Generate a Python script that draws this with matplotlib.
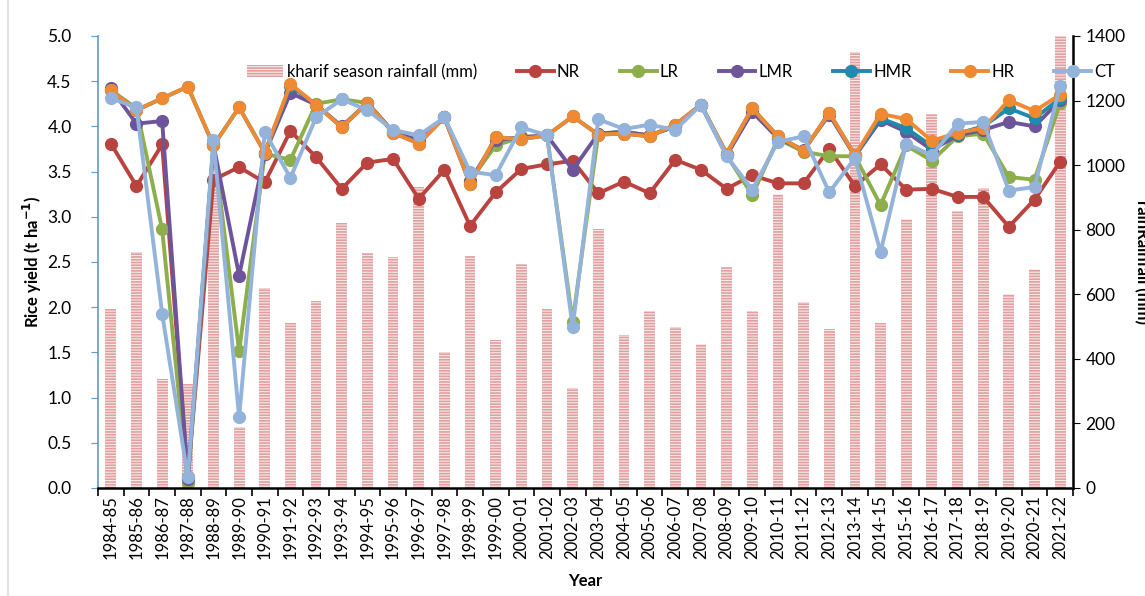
import matplotlib.pyplot as plt
import numpy as np

plt.rcParams['font.family'] = ['Lato', 'DejaVu Sans']

# ---- data ----
years = ['1984-85', '1985-86', '1986-87', '1987-88', '1988-89', '1989-90', '1990-91',
         '1991-92', '1992-93', '1993-94', '1994-95', '1995-96', '1996-97', '1997-98',
         '1998-99', '1999-00', '2000-01', '2001-02', '2002-03', '2003-04', '2004-05',
         '2005-06', '2006-07', '2007-08', '2008-09', '2009-10', '2010-11', '2011-12',
         '2012-13', '2013-14', '2014-15', '2015-16', '2016-17', '2017-18', '2018-19',
         '2019-20', '2020-21', '2021-22']

rainfall = [553, 730, 337, 322, 945, 190, 620, 512, 579, 820, 729, 716, 931, 422,
            720, 458, 694, 553, 311, 801, 474, 548, 500, 445, 683, 548, 910, 575,
            492, 1349, 512, 833, 1157, 858, 930, 601, 677, 1400]

nr = [3.81, 3.34, 3.80, 0.12, 3.41, 3.55, 3.38, 3.95, 3.66, 3.31, 3.60, 3.64, 3.20, 3.52,
      2.90, 3.27, 3.53, 3.58, 3.62, 3.26, 3.39, 3.26, 3.63, 3.52, 3.31, 3.46, 3.37, 3.37,
      3.75, 3.34, 3.58, 3.30, 3.31, 3.22, 3.22, 2.89, 3.19, 3.61]
lr = [4.40, 4.20, 2.86, 0.05, 3.80, 1.51, 3.70, 3.63, 4.25, 4.30, 4.26, 3.94, 3.85, 4.10,
      3.40, 3.79, 3.88, 3.90, 1.84, 3.92, 3.94, 3.90, 4.00, 4.24, 3.68, 3.24, 3.86, 3.72,
      3.67, 3.67, 3.13, 3.79, 3.62, 3.89, 3.92, 3.44, 3.41, 4.26]
lmr = [4.42, 4.03, 4.06, 0.10, 3.80, 2.35, 3.70, 4.37, 4.24, 4.00, 4.26, 3.94, 3.84, 4.10,
       3.40, 3.85, 3.88, 3.90, 3.52, 3.92, 3.94, 3.90, 4.00, 4.24, 3.68, 4.16, 3.87, 3.74,
       4.13, 3.67, 4.07, 3.94, 3.74, 3.90, 3.96, 4.05, 4.00, 4.29]
hmr = [4.40, 4.18, 4.31, 4.44, 3.79, 4.21, 3.71, 4.45, 4.24, 3.99, 4.26, 3.93, 3.81, 4.10,
       3.36, 3.88, 3.86, 3.90, 4.11, 3.91, 3.92, 3.89, 4.02, 4.24, 3.70, 4.20, 3.89, 3.73,
       4.15, 3.68, 4.09, 3.98, 3.78, 3.92, 4.00, 4.20, 4.09, 4.31]
hr = [4.40, 4.18, 4.31, 4.44, 3.79, 4.21, 3.71, 4.47, 4.24, 3.99, 4.26, 3.93, 3.81, 4.10,
      3.36, 3.88, 3.86, 3.90, 4.11, 3.91, 3.92, 3.89, 4.02, 4.24, 3.70, 4.20, 3.89, 3.73,
      4.15, 3.68, 4.14, 4.08, 3.84, 3.93, 3.98, 4.29, 4.17, 4.35]
ct = [4.31, 4.21, 1.93, 0.12, 3.85, 0.78, 3.94, 3.43, 4.10, 4.30, 4.18, 3.96, 3.90, 4.10,
      3.50, 3.46, 3.99, 3.90, 1.78, 4.08, 3.97, 4.02, 3.96, 4.24, 3.67, 3.30, 3.83, 3.89,
      3.27, 3.65, 2.61, 3.81, 3.68, 4.03, 4.05, 3.29, 3.33, 4.45]

x = np.arange(len(years))

fig = plt.figure(figsize=(11.45, 5.96), dpi=100)
ax = fig.add_axes([98 / 1145, 1 - 488 / 596, 975 / 1145, 452 / 596])
ax2 = ax.twinx()

# rainfall bars on the right axis, drawn behind the lines
plt.rcParams['hatch.linewidth'] = 1.2
bars = ax2.bar(x, rainfall, width=0.42, color='#fae8e8', edgecolor='#e0a0a0', linewidth=0,
               hatch='------', label='kharif season rainfall (mm)', zorder=1)
ax2.set_ylim(0, 1400)
ax2.set_yticks(np.arange(0, 1401, 200))
ax.set_zorder(ax2.get_zorder() + 1)
ax.patch.set_visible(False)

lw = 2.8
ms = 8.5
ax.plot(x, nr, color='#b9433f', lw=lw, marker='o', ms=ms, label='NR')
ax.plot(x, lr, color='#8cae4b', lw=lw, marker='o', ms=ms, label='LR')
ax.plot(x, lmr, color='#6e559b', lw=lw, marker='o', ms=ms, label='LMR')
ax.plot(x, hmr, color='#1f8aab', lw=lw, marker='o', ms=ms, label='HMR')
ax.plot(x, hr, color='#ef8a33', lw=lw, marker='o', ms=ms, label='HR')
ax.plot(x, ct, color='#93b3db', lw=lw, marker='o', ms=ms, label='CT')

ax.set_xlim(-0.5, len(years) - 0.5)
ax.set_ylim(0, 5)
ax.set_yticks(np.arange(0, 5.01, 0.5))
ax.set_yticklabels(['%.1f' % v for v in np.arange(0, 5.01, 0.5)])
ax.set_xticks(x)
ax.set_xticklabels(years, rotation=90)
ax.set_xticks(np.arange(-0.5, len(years), 1), minor=True)
ax.tick_params(axis='x', which='major', length=0, labelsize=12, pad=5)
ax.tick_params(axis='x', which='minor', length=6, width=1.2, direction='out')
ax.tick_params(axis='y', labelsize=12.5, length=5, color='#5b9bd5', pad=14)
ax2.tick_params(axis='y', labelsize=12.5, length=5, pad=4)

for a in (ax, ax2):
    a.spines['top'].set_visible(False)
ax.spines['left'].set_color('#5b9bd5')
ax.spines['left'].set_linewidth(1.2)
ax.spines['right'].set_visible(False)
ax.spines['bottom'].set_linewidth(1.8)
ax2.spines['left'].set_visible(False)
ax2.spines['bottom'].set_visible(False)
ax2.spines['right'].set_linewidth(1.8)

ax.set_ylabel('Rice yield (t ha$^{\\mathbf{-1}}$)', fontsize=12, fontweight='bold', labelpad=2)
ax.set_xlabel('Year', fontsize=12, fontweight='bold', labelpad=10)
# right axis title runs off the right edge, as in the original figure
fig.text(1142 / 1145, 1 - 262 / 596, 'rainRainfall (mm)', rotation=-90, ha='center',
         va='center', fontsize=12, fontweight='bold')

# light frame line on the left of the chart area
fig.add_artist(plt.Line2D([8 / 1145, 8 / 1145], [0.0, 1.0], color='#d9d9d9', lw=1.2))

h1, l1 = ax2.get_legend_handles_labels()
h2, l2 = ax.get_legend_handles_labels()
fig.legend(h1 + h2, l1 + l2, loc='center', bbox_to_anchor=(681 / 1145, 1 - 72 / 596),
           ncol=7, frameon=False, fontsize=12, handlelength=2.2, columnspacing=2.4,
           handletextpad=0.2)

fig.savefig('out.png', dpi=100)
